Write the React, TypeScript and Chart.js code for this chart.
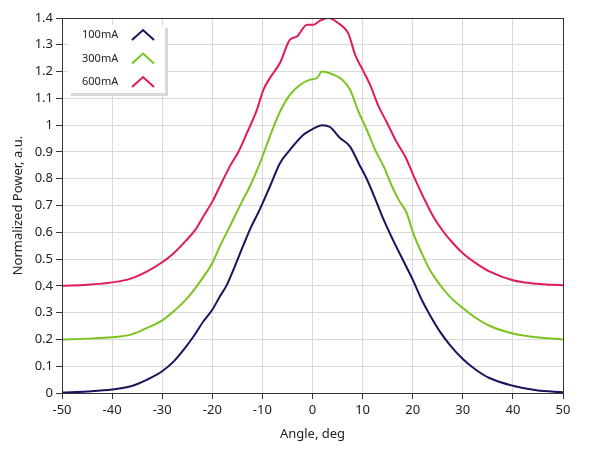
import { useEffect, useRef } from 'react';
import { Chart, registerables } from 'chart.js';

Chart.register(...registerables);

// angle (deg) / normalized power (a.u.)
const angles100 = [-50, -45, -40, -36.25, -33, -30, -27.7, -25.7, -23.75, -21.8, -20, -18.5, -17.2, -15.5, -13.9, -12.2, -10.7, -8.5, -6.5, -4.5, -1.8, 0, 1.9, 3.5, 5.5, 7.5, 9.2, 10.9, 12.6, 14.2, 16.2, 18.2, 20, 21.8, 23.4, 25.4, 27.4, 30, 32.6, 35.3, 40, 44.7, 50];
const power100 = [0.002, 0.006, 0.013, 0.025, 0.05, 0.081, 0.118, 0.162, 0.211, 0.267, 0.311, 0.36, 0.4, 0.473, 0.547, 0.622, 0.678, 0.771, 0.858, 0.908, 0.964, 0.985, 1.0, 0.993, 0.952, 0.92, 0.858, 0.796, 0.721, 0.647, 0.566, 0.491, 0.423, 0.348, 0.292, 0.23, 0.18, 0.127, 0.087, 0.056, 0.027, 0.01, 0.003];

const angles300 = [-50, -45, -40, -36.25, -33, -30, -27.7, -25, -22.4, -20, -18.5, -16.5, -13.9, -12.5, -10.5, -8.5, -6.5, -4.5, -2.5, -0.5, 0.9, 1.9, 4.2, 5.9, 7.5, 9.2, 10.9, 12.5, 14.2, 15.9, 17.2, 18.8, 20.1, 21.8, 23.4, 25.4, 27.4, 30, 32.6, 35.3, 40, 44.7, 50];
const power300 = [0.2, 0.203, 0.208, 0.218, 0.243, 0.271, 0.305, 0.354, 0.417, 0.485, 0.547, 0.622, 0.721, 0.771, 0.858, 0.958, 1.05, 1.114, 1.15, 1.17, 1.176, 1.2, 1.188, 1.17, 1.132, 1.05, 0.98, 0.908, 0.846, 0.77, 0.721, 0.672, 0.597, 0.522, 0.46, 0.405, 0.36, 0.317, 0.28, 0.251, 0.222, 0.208, 0.2];

const angles600 = [-50, -45, -40, -36.25, -33, -30, -27.7, -25.4, -23.4, -21.8, -19.8, -18.5, -16.5, -14.8, -13.1, -11.1, -9.8, -8.5, -6.5, -4.5, -3.1, -1.1, 0.2, 1.5, 3.2, 4.9, 7.2, 8.5, 10.2, 11.5, 13.2, 14.9, 16.9, 18.5, 20.2, 22.4, 24.1, 26.1, 28, 30, 32.6, 35.3, 40, 44.7, 50];
const power600 = [0.4, 0.404, 0.413, 0.427, 0.454, 0.488, 0.522, 0.566, 0.609, 0.659, 0.721, 0.771, 0.846, 0.9, 0.97, 1.057, 1.132, 1.176, 1.232, 1.319, 1.331, 1.375, 1.375, 1.39, 1.4, 1.384, 1.34, 1.263, 1.2, 1.15, 1.07, 1.008, 0.933, 0.883, 0.81, 0.721, 0.659, 0.603, 0.56, 0.522, 0.485, 0.454, 0.421, 0.408, 0.402];

const seriesLabels = ['100mA', '300mA', '600mA'];
const seriesColors = ['#16165e', '#7bc41f', '#e2195e'];

const xTickValues = [-50, -40, -30, -20, -10, 0, 10, 20, 30, 40, 50];
const yTickValues = [0, 0.1, 0.2, 0.3, 0.4, 0.5, 0.6, 0.7, 0.8, 0.9, 1, 1.1, 1.2, 1.3, 1.4];

const FONT = '"Noto Sans", "Open Sans", sans-serif';

const toPoints = (xs: number[], ys: number[]) => xs.map((x, i) => ({ x, y: ys[i] }));

// dark frame around the whole plot area
const framePlugin = {
  id: 'frame',
  afterDatasetsDraw(chart: any) {
    const { ctx, chartArea: a } = chart;
    ctx.save();
    ctx.strokeStyle = '#333';
    ctx.lineWidth = 1;
    ctx.strokeRect(Math.round(a.left) + 0.5, Math.round(a.top) + 0.5, Math.round(a.right - a.left), Math.round(a.bottom - a.top));
    ctx.restore();
  }
};

// legend box: label text with a chevron marker on its right
const legendBoxPlugin = {
  id: 'legendBox',
  afterDraw(chart: any) {
    const { ctx, chartArea: a } = chart;
    const x = a.left + 6;
    const y = a.top + 7;
    const w = 97;
    const h = 68;
    ctx.save();
    ctx.fillStyle = '#d8d8d8';
    ctx.fillRect(x + 3, y + 3, w, h);
    ctx.fillStyle = '#ffffff';
    ctx.fillRect(x, y, w, h);
    ctx.font = `11px ${FONT}`;
    ctx.textBaseline = 'middle';
    chart.data.datasets.forEach((ds: any, i: number) => {
      const cy = y + 10 + i * 23.5;
      ctx.fillStyle = '#222';
      ctx.textAlign = 'left';
      ctx.fillText(ds.label, x + 14, cy);
      ctx.strokeStyle = ds.borderColor;
      ctx.lineWidth = 2;
      ctx.beginPath();
      ctx.moveTo(x + 64, cy + 5);
      ctx.lineTo(x + 75, cy - 5);
      ctx.lineTo(x + 86, cy + 5);
      ctx.stroke();
    });
    ctx.restore();
  }
};

export default function App() {
  const canvasRef = useRef<HTMLCanvasElement>(null);

  useEffect(() => {
    if (!canvasRef.current) return;
    const seriesData = [toPoints(angles100, power100), toPoints(angles300, power300), toPoints(angles600, power600)];

    const chart = new Chart(canvasRef.current, {
      type: 'line',
      data: {
        datasets: seriesLabels.map((label, i) => ({
          label,
          data: seriesData[i],
          borderColor: seriesColors[i],
          backgroundColor: seriesColors[i],
          borderWidth: 2,
          pointRadius: 0,
          cubicInterpolationMode: 'monotone' as const,
          fill: false
        }))
      },
      options: {
        responsive: false,
        animation: false,
        layout: { padding: { top: 18, right: 26, left: 0, bottom: 0 } },
        plugins: {
          legend: { display: false },
          tooltip: { enabled: false }
        },
        scales: {
          x: {
            type: 'linear',
            min: -50,
            max: 50,
            afterBuildTicks: (scale: any) => { scale.ticks = xTickValues.map(v => ({ value: v })); },
            afterFit: (scale: any) => { scale.height = 63; },
            grid: { color: '#dadada', lineWidth: 1, tickLength: 6, tickColor: '#333' },
            border: { display: true, color: '#333', width: 1 },
            ticks: { color: '#222', padding: 3, maxRotation: 0, font: { family: FONT, size: 13 } },
            title: { display: true, text: 'Angle, deg', color: '#222', padding: { top: 4, bottom: 14 }, font: { family: FONT, size: 13 } }
          },
          y: {
            type: 'linear',
            min: 0,
            max: 1.4,
            afterBuildTicks: (scale: any) => { scale.ticks = yTickValues.map(v => ({ value: v })); },
            afterFit: (scale: any) => { scale.width = 62; },
            grid: { color: '#dadada', lineWidth: 1, tickLength: 6, tickColor: '#333' },
            border: { display: true, color: '#333', width: 1 },
            ticks: {
              color: '#222',
              padding: 3,
              font: { family: FONT, size: 13 },
              callback: (v: any) => String(Number(Number(v).toFixed(1)))
            },
            title: { display: true, text: 'Normalized Power, a.u.', color: '#222', padding: { top: 10, bottom: 0 }, font: { family: FONT, size: 13 } }
          }
        }
      },
      plugins: [framePlugin, legendBoxPlugin]
    });

    return () => chart.destroy();
  }, []);

  return (
    <div style={{ position: 'absolute', left: 0, top: 0, width: 589, height: 456, background: '#fff' }}>
      <canvas ref={canvasRef} width={589} height={456} />
    </div>
  );
}
